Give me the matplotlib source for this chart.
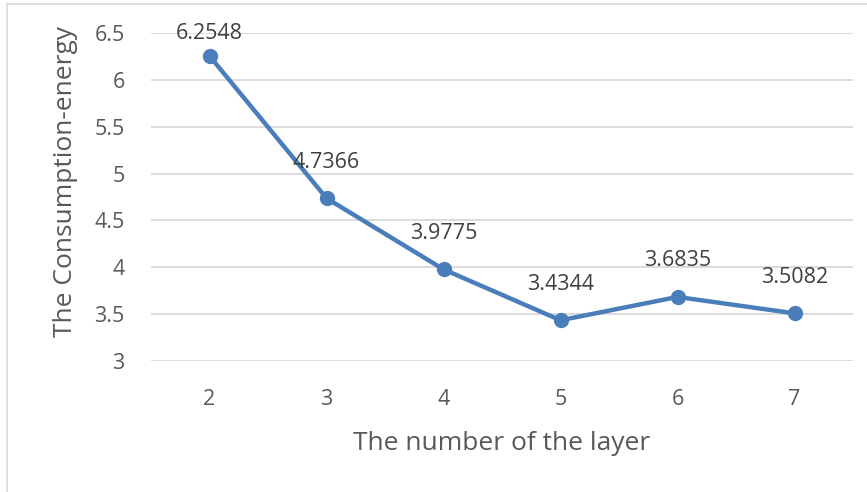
import matplotlib.pyplot as plt
from matplotlib.patches import Rectangle

plt.rcParams['font.family'] = ['Open Sans', 'DejaVu Sans']

layers = ['2', '3', '4', '5', '6', '7']
energy = [6.2548, 4.7366, 3.9775, 3.4344, 3.6835, 3.5082]
# label offsets above each point (points)
label_dy = [16, 26, 26, 26, 26, 26]

text_color = '#595959'
line_color = '#4a7ebb'

fig = plt.figure(figsize=(8.67, 4.92), dpi=100)
ax = fig.add_axes([0.1742, 0.2663, 0.8097, 0.6666])

x = list(range(len(layers)))
ax.plot(x, energy, color=line_color, lw=3.2, marker='o', markersize=10,
        solid_capstyle='round', zorder=3, clip_on=False)

for xi, v, dy in zip(x, energy, label_dy):
    ax.annotate(f'{v:.4f}', (xi, v), xytext=(0, dy), textcoords='offset points',
                ha='center', va='center', fontsize=15.5, color='#404040')

ax.set_xlim(-0.5, len(layers) - 0.5)
ax.set_ylim(3, 6.5)
ax.set_xticks(x)
ax.set_xticklabels(layers)
ax.set_yticks([3, 3.5, 4, 4.5, 5, 5.5, 6, 6.5])
ax.set_yticklabels(['3', '3.5', '4', '4.5', '5', '5.5', '6', '6.5'])
ax.grid(axis='y', color='#d9d9d9', lw=1.3)
ax.set_axisbelow(True)
for s in ax.spines.values():
    s.set_visible(False)
ax.tick_params(length=0, labelsize=15.5, labelcolor=text_color)
ax.tick_params(axis='y', pad=19)
ax.tick_params(axis='x', pad=20)

ax.set_xlabel('The number of the layer', fontsize=19, color=text_color, labelpad=15)
ax.set_ylabel('The Consumption-energy', fontsize=19, color=text_color)
ax.yaxis.set_label_coords(-0.104, 0.546)

# outer chart border
fig.patches.append(Rectangle((7 / 867, -0.1), 1.2, 1.1 - 4 / 492,
                             transform=fig.transFigure, fill=False,
                             edgecolor='#d9d9d9', lw=1.2))

fig.savefig('out.png', dpi=100)
